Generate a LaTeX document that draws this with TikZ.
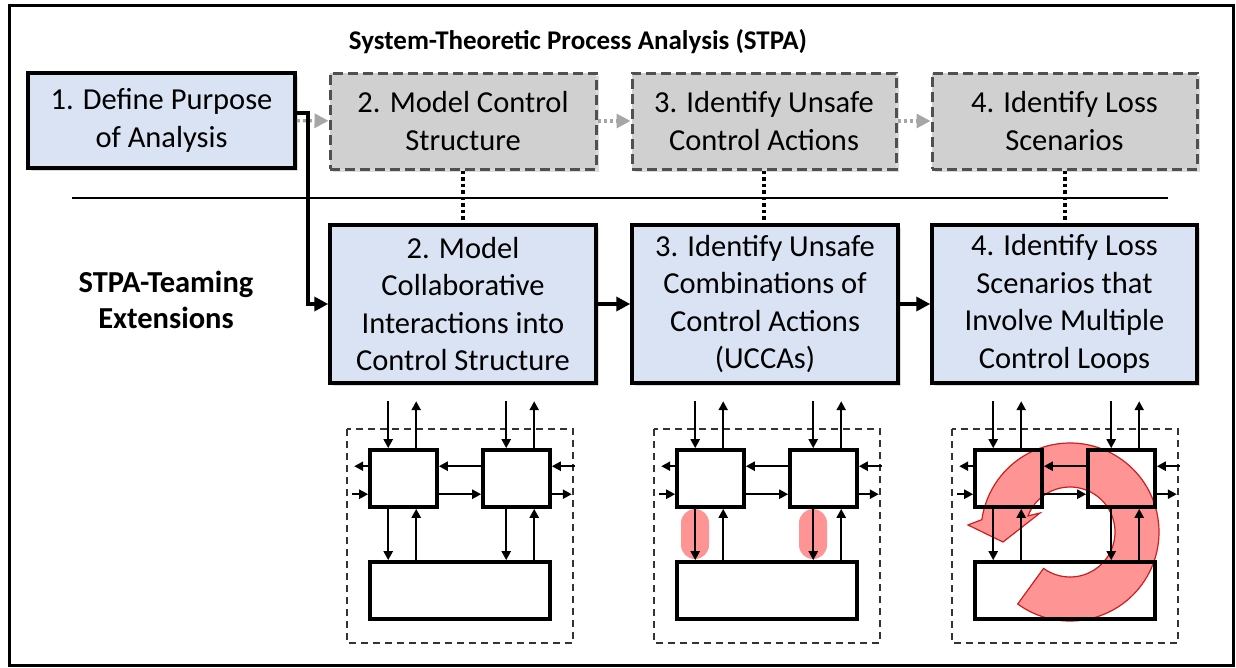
\documentclass[tikz,border=0pt]{standalone}
\usepackage{fontspec}
\setmainfont{Carlito}
\usetikzlibrary{arrows.meta,shadows}

\definecolor{stepblue}{HTML}{DAE3F3}
\definecolor{stepgray}{HTML}{D0D0D0}
\definecolor{dashgray}{HTML}{505050}
\definecolor{flowgray}{HTML}{A6A6A6}
\definecolor{hilite}{RGB}{255,148,148}
\definecolor{hiliteedge}{RGB}{205,30,30}

\tikzset{
  txt/.style={font=\fontsize{30.5}{37.5}\selectfont, align=center, inner sep=0pt},
  shade/.style={drop shadow={opacity=0.28, shadow xshift=2.5pt, shadow yshift=-2.5pt}},
  bluebox/.style={txt, shade, draw=black, line width=3.5pt, fill=stepblue},
  graybox/.style={txt, shade, draw=dashgray, line width=3pt, dash pattern=on 10pt off 5pt, fill=stepgray},
  flowarrow/.style={draw=flowgray, line width=3.2pt, dash pattern=on 3pt off 3pt,
    -{Triangle[length=14pt,width=14pt]}},
  heavyarrow/.style={line width=4pt, -{Triangle[length=14pt,width=14pt]}},
  dotline/.style={line width=4pt, dash pattern=on 3.5pt off 3pt},
  sbox/.style={draw=black, line width=3.6pt, inner sep=0pt},
  sarr/.style={line width=2.4pt, -{Triangle[length=9pt,width=9pt]}},
  dashframe/.style={draw=black!80, line width=1.8pt, dash pattern=on 7pt off 5pt},
  mini/.pic={
    \draw[dashframe] (-23,-21) rectangle (203,193);
    \node[sbox, minimum width=67pt, minimum height=57pt] (-l) at (33.5,28.5) {};
    \node[sbox, minimum width=67pt, minimum height=57pt] (-r) at (146.5,28.5) {};
    \node[sbox, minimum width=180pt, minimum height=57pt] (-b) at (90,140.5) {};
    % inputs and outputs above the controllers
    \draw[sarr] ([shift={(20,-47)}]-l.north west) -- ([shift={(20,0)}]-l.north west);
    \draw[sarr] ([shift={(48,0)}]-l.north west) -- ([shift={(48,-47)}]-l.north west);
    \draw[sarr] ([shift={(25,-47)}]-r.north west) -- ([shift={(25,0)}]-r.north west);
    \draw[sarr] ([shift={(53,0)}]-r.north west) -- ([shift={(53,-47)}]-r.north west);
    % side links
    \draw[sarr] ([shift={(0,18)}]-l.north west) -- ([shift={(-14,18)}]-l.north west);
    \draw[sarr] ([shift={(-16,46)}]-l.north west) -- ([shift={(0,46)}]-l.north west);
    \draw[sarr] ([shift={(0,18)}]-r.north west) -- ([shift={(0,18)}]-l.north east);
    \draw[sarr] ([shift={(0,46)}]-l.north east) -- ([shift={(0,46)}]-r.north west);
    \draw[sarr] ([shift={(23,18)}]-r.north east) -- ([shift={(0,18)}]-r.north east);
    \draw[sarr] ([shift={(0,46)}]-r.north east) -- ([shift={(20,46)}]-r.north east);
    % control actions and feedback to the process
    \draw[sarr] ([shift={(20,0)}]-l.south west) -- ([shift={(20,0)}]-b.north west);
    \draw[sarr] ([shift={(48,0)}]-b.north west) -- ([shift={(48,0)}]-l.south west);
    \draw[sarr] ([shift={(25,0)}]-r.south west) -- ([shift={(138,0)}]-b.north west);
    \draw[sarr] ([shift={(166,0)}]-b.north west) -- ([shift={(53,0)}]-r.south west);
  }
}

\begin{document}
\begin{tikzpicture}[x=1pt,y=-1pt]
\useasboundingbox (0,0) rectangle (1236,667);
\fill[white] (0,0) rectangle (1236,667);
\draw[line width=3pt] (9,5) rectangle (1233,665);

\node[font=\bfseries\fontsize{27}{32}\selectfont] (title) at (578,42) {System-Theoretic Process Analysis (STPA)};
\node[font=\bfseries\fontsize{30.5}{36.5}\selectfont, align=center] (ext) at (166,300) {STPA-Teaming\\Extensions};

% STPA steps
\node[bluebox, minimum width=267pt, minimum height=95pt] (p1) at (161.5,120.5) {1. Define Purpose\\of Analysis};
\node[graybox, minimum width=266pt, minimum height=96pt] (s2) at (463,121) {2. Model Control\\Structure};
\node[graybox, minimum width=264pt, minimum height=96pt] (s3) at (764,121) {3. Identify Unsafe\\Control Actions};
\node[graybox, minimum width=265pt, minimum height=96pt] (s4) at (1064.5,121) {4. Identify Loss\\Scenarios};

% teaming extensions
\node[bluebox, minimum width=266pt, minimum height=158pt] (t2) at (463,304) {2. Model\\Collaborative\\Interactions into\\Control Structure};
\node[bluebox, minimum width=266pt, minimum height=158pt] (t3) at (765,304) {3. Identify Unsafe\\Combinations of\\Control Actions\\(UCCAs)};
\node[bluebox, minimum width=265pt, minimum height=158pt] (t4) at (1064.5,304) {4. Identify Loss\\Scenarios that\\Involve Multiple\\Control Loops};

% separator
\coordinate (sepL) at (72,198);
\coordinate (sepR) at (1168,198);
\draw[line width=1.6pt] (sepL) -- (sepR);

% flow arrows
\draw[flowarrow] (p1) -- (s2);
\draw[flowarrow] (s2) -- (s3);
\draw[flowarrow] (s3) -- (s4);
\draw[heavyarrow] ([yshift=7.5pt]p1.east) -- ++(11,0) |- (t2.west);
\draw[heavyarrow] (t2) -- (t3);
\draw[heavyarrow] (t3) -- (t4);

% correspondence between steps
\draw[dotline] (s2.south) -- (s2.south |- t2.north);
\draw[dotline] (s3.south) -- (s3.south |- t3.north);
\draw[dotline] (s4.south) -- (s4.south |- t4.north);

% highlighted control actions
\fill[hilite, rounded corners=14pt] (681,509) rectangle (709,559);
\fill[hilite, rounded corners=14pt] (799,509) rectangle (827,559);

% circulating loop
\begin{scope}[shift={(1070,532)}, y=1pt]
  \filldraw[fill=hilite, draw=hiliteedge, line width=1.2pt]
    (234:89) arc[start angle=234, end angle=532, radius=89]
    -- (-102,7) -- (-67,-10) -- (-30,19)
    -- (519:45) arc[start angle=519, end angle=234, radius=45] -- cycle;
\end{scope}

% control structure sketches
\pic (m1) at (370,450) {mini};
\pic (m2) at (677,450) {mini};
\pic (m3) at (975,450) {mini};
\end{tikzpicture}
\end{document}
